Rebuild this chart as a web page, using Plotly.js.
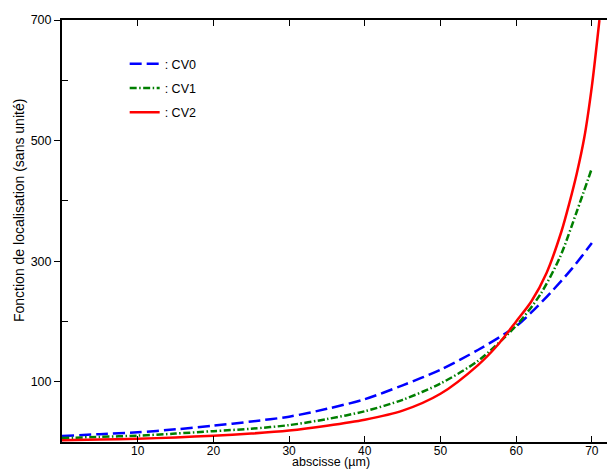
<!DOCTYPE html>
<html>
<head>
<meta charset="utf-8">
<script src="https://cdn.plot.ly/plotly-3.0.1.min.js"></script>
<style>html,body{margin:0;padding:0;background:#fff;}#chart{width:607px;height:470px;}</style>
</head>
<body>
<div id="chart"></div>
<script>
// Data
const seriesNames = [": CV0", ": CV1", ": CV2"];
const cv0X = [0, 5, 10, 15, 20, 25, 30, 35, 40, 45, 50, 55, 60, 62, 64.5, 67.4, 70];
const cv0Y = [10, 13, 16, 21, 27, 34, 42, 55, 71, 94, 120, 153, 192, 215, 247, 288, 330];
const cv1X = [0, 5, 10, 15, 20, 25, 30, 35, 40, 45, 50, 55, 60, 63.2, 65.8, 68, 70];
const cv1Y = [6.5, 8.5, 10.5, 14, 18, 22, 28, 38, 51, 70, 97, 135, 193, 245, 307, 382, 454];
const cv2X = [0, 5, 10, 15, 20, 25, 30, 35, 40, 45, 50, 55, 57.5, 60, 62, 64, 66, 67, 68, 69, 70, 71];
const cv2Y = [3, 4, 5.5, 7.5, 10.5, 14, 19, 27, 37, 52, 80, 128, 160, 200, 233, 280, 350, 395, 445, 505, 590, 700];
const xTickVals = [10, 20, 30, 40, 50, 60, 70];
const yTickVals = [100, 300, 500, 700];
const yMinorTickVals = [200, 400, 600];
const xTitle = 'abscisse (µm)';
const yTitle = 'Fonction de localisation (sans unité)';

const traces = [
  {x: cv0X, y: cv0Y, name: seriesNames[0], mode: 'lines', legendgroup: 'a',
   line: {color: '#0000ff', width: 2.5, dash: '12px,5px', shape: 'spline', smoothing: 0.8}},
  {x: cv1X, y: cv1Y, name: seriesNames[1], mode: 'lines', legendgroup: 'b',
   line: {color: '#007f00', width: 2.5, dash: '7px,2.5px,1.5px,2.5px', shape: 'spline', smoothing: 0.8}},
  {x: cv2X, y: cv2Y, name: seriesNames[2], mode: 'lines', legendgroup: 'c',
   line: {color: '#ff0000', width: 2.5, shape: 'spline', smoothing: 0.8}}
];

const layout = {
  width: 607, height: 470,
  margin: {l: 62, r: 0, t: 20, b: 28},
  paper_bgcolor: '#fff', plot_bgcolor: '#fff',
  font: {family: 'Liberation Sans, Arial, sans-serif', size: 12, color: '#000'},
  showlegend: true,
  legend: {x: 0.115, y: 0.931, xanchor: 'left', yanchor: 'top', bgcolor: 'rgba(0,0,0,0)',
           font: {size: 12.5}, traceorder: 'grouped', tracegroupgap: 5, itemwidth: 30},
  xaxis: {range: [0, 72], tickvals: xTickVals, ticktext: xTickVals.map(String),
          ticks: 'inside', ticklen: 6, tickcolor: '#000', showline: true, linecolor: '#000',
          linewidth: 2, mirror: 'ticks', showgrid: false, zeroline: false,
          tickfont: {size: 12}, ticklabelstandoff: -3},
  yaxis: {range: [0, 700], tickvals: yTickVals, ticktext: yTickVals.map(String),
          ticks: 'outside', ticklen: 6, tickcolor: '#000', showline: true, linecolor: '#000',
          linewidth: 2, showgrid: false, zeroline: false, tickfont: {size: 12.5},
          minor: {tickvals: yMinorTickVals, ticks: 'inside', ticklen: 6, tickcolor: '#000', showgrid: false}},
  annotations: [
    {text: yTitle, textangle: -90, xref: 'paper', yref: 'paper',
     x: (19 - 62) / 545, y: (442 - 211) / 422, xanchor: 'center', yanchor: 'middle',
     showarrow: false, font: {size: 14}},
    {text: xTitle, xref: 'paper', yref: 'paper',
     x: (331 - 62) / 545, y: -(470 - 442) / 422, xanchor: 'center', yanchor: 'bottom',
     showarrow: false, font: {size: 12.5}, borderpad: 0}
  ]
};

Plotly.newPlot('chart', traces, layout, {displayModeBar: false, staticPlot: true});
</script>
</body>
</html>
